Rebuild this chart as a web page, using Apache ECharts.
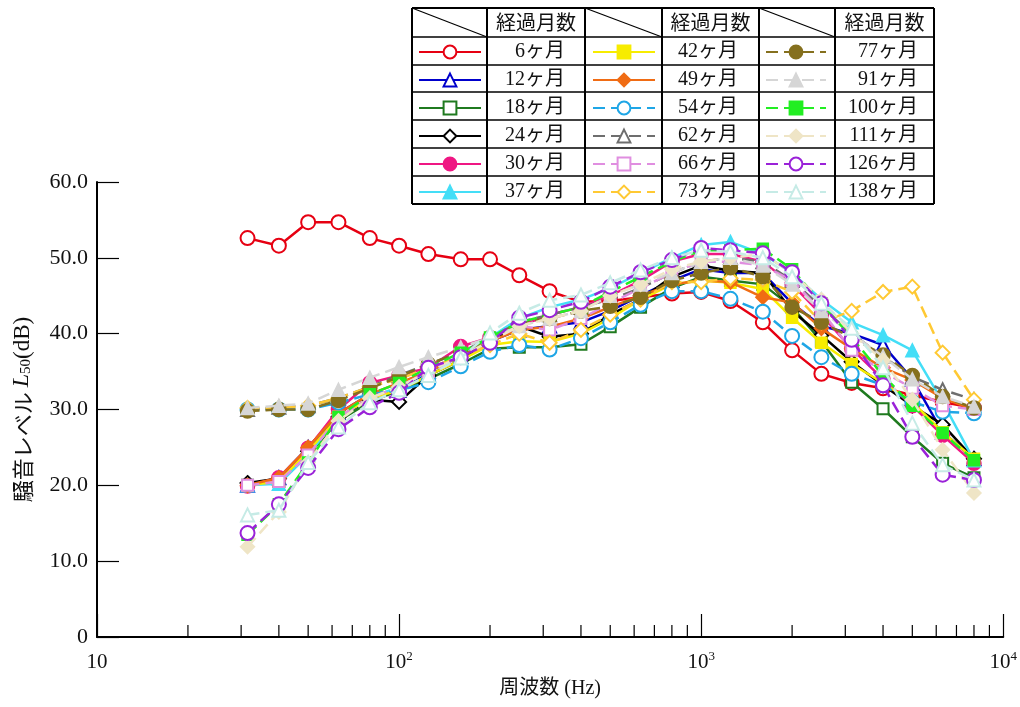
<!DOCTYPE html>
<html><head><meta charset="utf-8">
<script src="https://cdn.jsdelivr.net/npm/echarts@6/dist/echarts.min.js"></script>
<style>html,body{margin:0;padding:0;background:#fff}#c{width:1020px;height:707px}</style>
</head><body><div id="c"></div>
<script>
const freqs = [31.5,40,50,63,80,100,125,160,200,250,315,400,500,630,800,1000,1250,1600,2000,2500,3150,4000,5000,6300,8000];
const names = ['6ヶ月','12ヶ月','18ヶ月','24ヶ月','30ヶ月','37ヶ月','42ヶ月','49ヶ月','54ヶ月','62ヶ月','66ヶ月','73ヶ月','77ヶ月','91ヶ月','100ヶ月','111ヶ月','126ヶ月','138ヶ月'];
const m6   = [52.6,51.6,54.7,54.7,52.6,51.6,50.5,49.8,49.8,47.7,45.6,44.2,44.3,44.8,45.3,45.5,44.3,41.5,37.8,34.7,33.5,32.8,31.9,31.0,30.2];
const m12  = [20.0,21.0,25.0,29.5,32.0,32.5,35.0,37.0,39.0,40.5,41.0,41.5,43.0,45.0,47.0,48.5,48.0,48.0,44.0,41.0,40.0,38.5,34.0,27.0,23.5];
const m18  = [20.0,20.5,24.0,28.5,31.0,32.5,34.0,36.0,38.0,38.2,38.2,38.6,40.9,43.5,46.0,47.5,47.0,46.5,43.5,39.0,33.6,30.1,26.4,22.9,21.0];
const m24  = [20.3,20.9,24.5,29.0,31.3,31.0,34.5,36.5,39.0,41.0,39.6,40.0,42.5,44.5,47.5,49.0,48.3,48.0,43.0,39.8,36.3,33.2,30.5,28.0,23.5];
const m30  = [19.9,21.0,24.9,30.0,33.5,34.5,35.5,38.3,39.5,41.0,42.5,43.5,45.0,47.0,49.5,50.5,50.5,49.5,46.5,42.5,38.0,34.0,30.5,26.6,22.9];
const m37  = [20.0,20.2,24.0,29.0,31.5,33.0,35.0,37.0,39.5,42.0,43.5,44.5,46.0,48.0,50.0,51.7,52.1,50.5,48.0,44.5,41.5,39.8,37.8,31.0,23.3];
const m42  = [20.0,20.5,24.5,29.0,31.5,32.5,34.5,36.5,38.5,39.0,38.9,40.0,42.0,44.5,46.5,47.0,46.7,45.9,42.1,38.8,36.0,33.5,31.0,27.0,23.5];
const m49  = [20.0,21.0,25.0,29.5,32.0,33.5,35.0,37.0,39.0,40.5,40.9,42.0,43.5,45.0,46.5,47.0,46.8,44.8,44.1,40.7,38.0,35.5,33.9,31.5,30.0];
const m54  = [30.0,30.0,30.0,30.9,32.0,32.5,33.6,35.7,37.6,38.5,37.9,39.4,41.5,43.8,45.6,45.6,44.6,42.9,39.7,36.9,34.7,33.2,31.0,29.7,29.5];
const m62  = [30.0,30.3,30.5,31.5,33.0,34.5,36.0,37.5,39.5,41.5,42.5,43.5,44.5,46.0,48.0,49.5,50.0,49.5,47.0,43.5,40.0,37.0,34.3,32.6,31.3];
const m66  = [20.0,20.5,24.0,29.0,31.5,33.0,35.0,37.0,39.0,41.0,40.5,42.0,44.0,46.0,48.0,49.5,49.5,49.0,47.0,43.0,37.8,35.0,32.8,30.5,30.0];
const m73  = [30.2,30.2,30.5,31.5,33.0,34.0,35.5,37.0,38.5,40.0,38.8,40.5,42.5,44.5,46.8,46.8,47.3,47.1,45.5,41.5,43.0,45.5,46.2,37.5,31.3];
const m77  = [29.8,30.0,30.0,31.2,32.8,34.3,36.0,37.5,39.0,41.5,42.0,43.0,43.6,44.8,47.0,48.0,48.7,47.5,43.5,41.5,39.5,37.2,34.5,31.7,30.2];
const m91  = [30.2,30.5,30.8,32.6,34.2,35.6,36.9,38.2,39.5,41.0,42.0,43.0,45.0,46.5,48.0,49.5,50.0,49.0,46.5,43.0,40.0,37.0,34.0,31.7,30.4];
const m100 = [13.5,17.5,23.0,29.0,32.0,33.5,35.5,37.5,39.5,41.5,42.5,43.5,45.5,47.5,49.5,51.0,51.0,51.2,48.5,44.0,39.5,34.5,30.5,26.9,23.3];
const m111 = [11.9,16.5,23.0,28.5,31.5,33.0,35.0,37.0,39.0,41.0,42.0,43.0,45.0,46.5,48.5,49.5,50.0,50.5,48.0,44.5,40.0,36.5,31.3,24.7,19.0];
const m126 = [13.7,17.5,22.3,27.4,30.3,32.2,35.5,36.9,38.8,42.1,43.1,44.2,46.2,48.1,49.7,51.3,51.0,50.6,48.1,44.0,39.2,33.2,26.4,21.4,20.7];
const m138 = [16.1,16.7,23.0,27.7,30.9,32.6,34.5,36.8,40.1,42.7,44.4,45.1,46.7,48.4,50.0,51.0,50.8,50.0,47.5,44.0,40.7,35.5,28.2,22.7,20.7];
const values = [m6,m12,m18,m24,m30,m37,m42,m49,m54,m62,m66,m73,m77,m91,m100,m111,m126,m138];
const colors = ['#e60012','#0000cc','#1f7a1f','#000000','#ef1783','#44def7','#f7ec00','#f06c14','#1fa6e6','#6e6e6e','#e08ee0','#ffc933','#85701e','#d6d6d6','#22ee22','#efe5c6','#9a22d8','#c6ebe6'];
const symbols = ['emptyCircle','emptyTriangle','emptyRect','emptyDiamond','circle','triangle','rect','diamond','emptyCircle','emptyTriangle','emptyRect','emptyDiamond','circle','triangle','rect','diamond','emptyCircle','emptyTriangle'];
const dashed = [false,false,false,false,false,false,false,false,true,true,true,true,true,true,true,true,true,true];
const yTicks = [0,10,20,30,40,50,60];
const xMinorTicks = [20,30,40,50,60,70,80,90,200,300,400,500,600,700,800,900,2000,3000,4000,5000,6000,7000,8000,9000];

const symSize = {emptyCircle:14,circle:14,emptyTriangle:13,triangle:13,emptyRect:11,rect:11,emptyDiamond:14,diamond:14};
const series = values.map((vals,i)=>({
  name: names[i], type:'line',
  data: freqs.map((f,j)=>[f, vals[j]]),
  symbol: symbols[i], symbolSize: symSize[symbols[i]],
  lineStyle:{color:colors[i], width:2.5, type: dashed[i]?[12,6]:'solid'},
  itemStyle:{color:colors[i], borderColor:colors[i], borderWidth:1.5},
  z: 2+i
}));
series.push({
  type:'custom', silent:true, z:1,
  data: xMinorTicks.map(v=>[v,0]),
  renderItem:(params,api)=>{
    const p = api.coord([api.value(0), 0]);
    return {type:'line', shape:{x1:p[0],y1:p[1],x2:p[0],y2:p[1]-12}, style:{stroke:'#000',lineWidth:1.2}};
  }
});

const serif = '"Liberation Serif","Noto Sans CJK JP",serif';
const sans = '"Noto Sans CJK JP",sans-serif';
const colLeft = [418, 592, 765];
const colTextW = [79, 78, 87];
const legends = [0,1,2].map(c=>({
  orient:'vertical', left: colLeft[c], top: 42, padding:0,
  itemWidth: c===2?60:62, itemHeight:16, itemGap:8, selectedMode:false,
  data: names.slice(c*6, c*6+6),
  formatter: n=>'{a|'+n+'}',
  textStyle:{fontFamily:serif, fontSize:20, color:'#111', lineHeight:18,
    rich:{a:{width:colTextW[c], align:'right', fontFamily:serif, fontSize:20, lineHeight:18, color:'#111'}}}
}));

// table frame
const xs = [412,487,585,662,759,835,934];
const ys = [8,37,65,92,120,148,176,204];
const g = [];
xs.forEach(x=>g.push({type:'line', shape:{x1:x,y1:ys[0],x2:x,y2:ys[ys.length-1]}, style:{stroke:'#000',lineWidth:2}}));
ys.forEach(y=>g.push({type:'line', shape:{x1:xs[0],y1:y,x2:xs[xs.length-1],y2:y}, style:{stroke:'#000',lineWidth:(y===8||y===204)?2:1.5}}));
[0,2,4].forEach(k=>g.push({type:'line', shape:{x1:xs[k],y1:ys[0],x2:xs[k+1],y2:ys[1]}, style:{stroke:'#000',lineWidth:1.2}}));
[1,3,5].forEach(k=>g.push({type:'text', x:(xs[k]+xs[k+1])/2, y:(ys[0]+ys[1])/2,
  style:{text:'経過月数', font:'20px '+sans, fill:'#111', align:'center', verticalAlign:'middle'}}));

const chart = echarts.init(document.getElementById('c'), null, {renderer:'canvas'});
chart.setOption({
  backgroundColor:'#fff',
  animation:false,
  grid:{left:97, right:16, top:182, bottom:70, containLabel:false},
  legend: legends,
  graphic: g,
  xAxis:{
    type:'log', logBase:10, min:10, max:10000,
    name:'周波数 (Hz)', nameLocation:'middle', nameGap:42,
    nameTextStyle:{fontFamily:serif, fontSize:20, color:'#111'},
    axisLine:{lineStyle:{color:'#000', width:2}},
    axisTick:{inside:true, length:23, lineStyle:{color:'#000', width:1.2}},
    axisLabel:{margin:13, color:'#111', fontFamily:serif, fontSize:21,
      formatter:v=>{ if (Math.abs(v-10)<1e-6) return '{b|10}'; const e=Math.round(Math.log10(v)); return '{b|10}{s|'+e+'}'; },
      rich:{b:{fontFamily:serif,fontSize:21,lineHeight:24,color:'#111'}, s:{fontFamily:serif,fontSize:13,verticalAlign:'top',lineHeight:24,color:'#111'}}},
    splitLine:{show:false}
  },
  yAxis:{
    type:'value', min:0, max:60, interval:10,
    name:'{j|騒音レベル }{i|L}{s|50}{k|(dB)}', nameLocation:'middle', nameGap:63, nameRotate:90,
    nameTextStyle:{rich:{
      j:{fontFamily:sans, fontSize:22, color:'#111', verticalAlign:'bottom', lineHeight:26},
      i:{fontFamily:serif, fontStyle:'italic', fontSize:24, color:'#111', verticalAlign:'bottom', lineHeight:26},
      s:{fontFamily:serif, fontSize:15, color:'#111', verticalAlign:'bottom', lineHeight:21},
      k:{fontFamily:serif, fontSize:23, color:'#111', verticalAlign:'bottom', lineHeight:26}}},
    axisLine:{show:true, lineStyle:{color:'#000', width:2}},
    axisTick:{inside:true, length:22, lineStyle:{color:'#000', width:1.2}},
    axisLabel:{margin:9, color:'#111', fontFamily:serif, fontSize:22, formatter:v=> v===0 ? '0' : v.toFixed(1)},
    splitLine:{show:false}
  },
  series: series
});
</script></body></html>
